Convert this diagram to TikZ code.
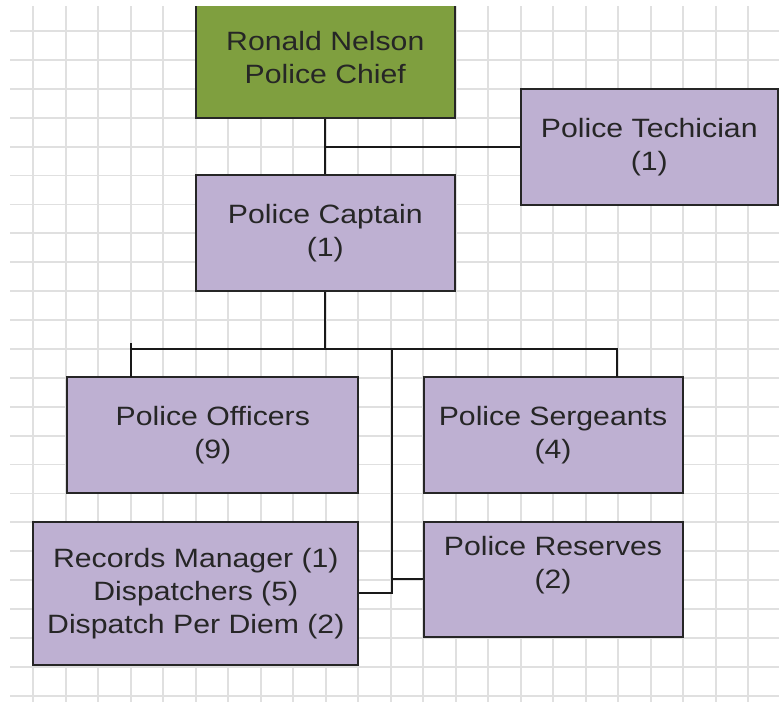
\documentclass[tikz,border=0pt]{standalone}
\usepackage{fontspec}
\setmainfont{Liberation Sans}[FakeStretch=1.14]
\definecolor{chiefgreen}{RGB}{127,159,63}
\definecolor{staffpurple}{RGB}{190,176,210}
\tikzset{
  unit/.style={draw=black!85, line width=2pt, fill=staffpurple, align=center,
    inner sep=0pt, text=black!85, font=\fontsize{26.5}{33}\selectfont},
  link/.style={black!90, line width=2pt}
}
\begin{document}
\begin{tikzpicture}[x=1pt,y=-1pt]
      \useasboundingbox (0,0) rectangle (779,702);
      \clip (0,6) rectangle (779,702);
      \draw[black!12, line width=1.8pt]
        \foreach \i in {0,...,22} {(33.3+32.5*\i,6) -- (33.3+32.5*\i,702)}
        \foreach \j in {0,...,23} {(10,31+28.9*\j) -- (779,31+28.9*\j)};
      \draw
        (325.3,57.2) node[unit, fill=chiefgreen, minimum width=259pt, minimum height=122pt] (chief){Ronald Nelson\\Police Chief}
        (325.3,233) node[unit, minimum width=259pt, minimum height=116pt] (captain){Police Captain\\(1)}
        (649.3,147) node[unit, minimum width=257pt, minimum height=116pt] (tech){Police Techician\\(1)}
        (212.8,435.3) node[unit, minimum width=291pt, minimum height=116pt] (officers){Police Officers\\(9)}
        (553,435.3) node[unit, minimum width=259pt, minimum height=116pt] (sergeants){Police Sergeants\\(4)}
        (195.8,593.3) node[unit, minimum width=325pt, minimum height=143pt] (records){Records Manager (1)\\Dispatchers (5)\\Dispatch Per Diem (2)}
        (553,579.2) node[unit, minimum width=259pt, minimum height=115pt] (reserves){Police Reserves\\(2)\\\mbox{}};
      \coordinate (bus) at (326.7,349.3);
      \coordinate (trunk) at (391.7,349.3);
      \coordinate (offtop) at (130.7,377.3);
      \coordinate (sgttop) at (617.3,377.3);
      \begin{scope}[link]
        \draw (chief) to (captain);
        \draw (tech.west) to (tech.west -| captain.north);
        \draw (captain.south) to (captain.south |- bus);
        \draw ([yshift=6pt]offtop |- bus) to (offtop);
        \draw (offtop |- bus) -- (sgttop |- bus) -- (sgttop);
        \draw (trunk) |- (records.east);
        \draw (reserves.west) to (reserves.west -| trunk);
      \end{scope}
    \end{tikzpicture}
\end{document}
